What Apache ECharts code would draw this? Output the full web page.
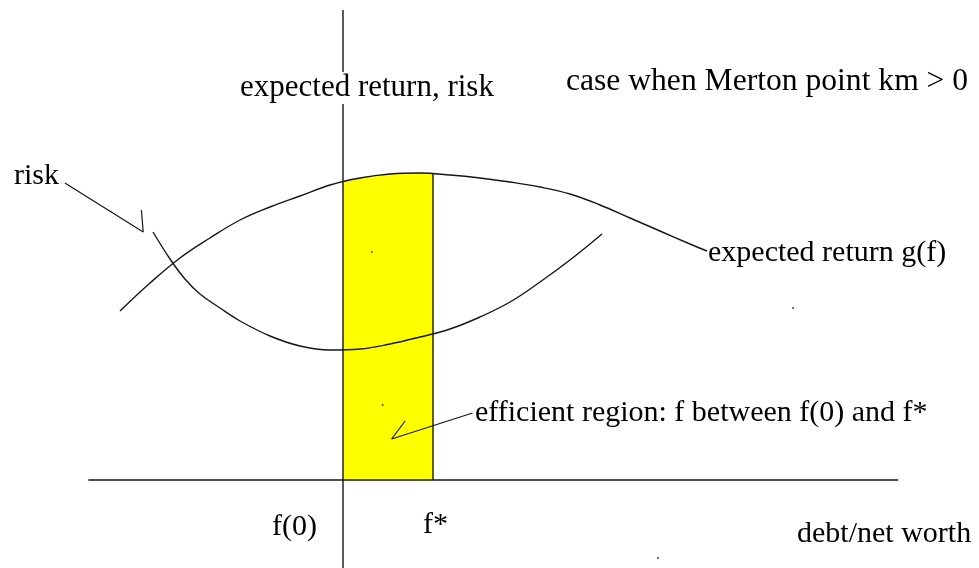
<!DOCTYPE html>
<html>
<head>
<meta charset="utf-8">
<script src="https://cdn.jsdelivr.net/npm/echarts@6/dist/echarts.min.js"></script>
<style>
  html, body { margin: 0; padding: 0; background: #ffffff; }
  #chart { width: 979px; height: 568px; }
</style>
</head>
<body>
<div id="chart"></div>
<script>
// Leverage f = debt/net worth on x, expected return and risk on y.

// expected return g(f)
const returnF = [-2.478, -2.144, -1.811, -1.478, -1.144, -0.811, -0.478, -0.144, 0.189, 0.522, 0.856, 1.189, 1.522, 1.856, 2.189, 2.522, 2.856, 3.189, 3.522, 3.856, 4.044];
const returnG = [1.69, 1.97, 2.22, 2.42, 2.60, 2.73, 2.84, 2.95, 3.02, 3.06, 3.07, 3.05, 3.02, 2.98, 2.93, 2.86, 2.75, 2.62, 2.49, 2.36, 2.29];

// risk
const riskF = [-2.111, -1.922, -1.756, -1.589, -1.367, -1.144, -0.811, -0.478, -0.144, 0.189, 0.522, 0.856, 1.189, 1.522, 1.856, 2.189, 2.522, 2.878];
const riskR = [2.48, 2.21, 2.01, 1.86, 1.72, 1.59, 1.44, 1.34, 1.30, 1.31, 1.36, 1.43, 1.51, 1.63, 1.78, 1.98, 2.20, 2.46];

// efficient region between f(0) and f*
const f0 = 0;
const fStar = 1;
const regionF = [0.0, 0.189, 0.522, 0.856, 1.0];
const regionTop = [2.98, 3.02, 3.06, 3.07, 3.06];

// extent of the drawn axes
const axisFRange = [-2.83, 6.17];
const axisYRange = [-0.88, 4.7];

// hand-drawn pointers from the labels
const riskPointer = [[-3.09, 2.97], [-2.22, 2.48], [-2.24, 2.70]];
const regionPointer = [[1.44, 0.67], [0.54, 0.41], [0.69, 0.59]];

// stray pen marks
const specks = [[0.32, 2.28], [0.44, 0.75], [5.0, 1.72], [3.5, -0.78]];

const INK = '#161616';
const FONT = '"Liberation Serif", "Times New Roman", serif';

const zip = (a, b) => a.map((v, i) => [v, b[i]]);

const chart = echarts.init(document.getElementById('chart'), null, { renderer: 'canvas' });

function plainLine(data, extra) {
  return Object.assign({
    type: 'line',
    data: data,
    showSymbol: false,
    symbol: 'none',
    clip: false,
    silent: true,
    animation: false,
    lineStyle: { color: INK, width: 1.4 }
  }, extra || {});
}

function label(text, x, y, size) {
  return {
    type: 'text',
    x: x,
    y: y,
    z: 100,
    style: {
      text: text,
      font: (size || 30) + 'px ' + FONT,
      fill: '#000000',
      align: 'left',
      verticalAlign: 'middle'
    }
  };
}

const option = {
  backgroundColor: '#ffffff',
  animation: false,
  grid: { left: 28, top: 30, width: 900, height: 500 },
  xAxis: {
    type: 'value', min: -3.5, max: 6.5,
    axisLine: { show: false }, axisTick: { show: false },
    axisLabel: { show: false }, splitLine: { show: false }
  },
  yAxis: {
    type: 'value', min: -0.5, max: 4.5,
    axisLine: { show: false }, axisTick: { show: false },
    axisLabel: { show: false }, splitLine: { show: false }
  },
  series: [
    // yellow efficient region
    plainLine(zip(regionF, regionTop), {
      smooth: 0.4,
      lineStyle: { width: 0, color: 'rgba(0,0,0,0)' },
      areaStyle: { color: '#ffff00', opacity: 1 },
      z: 1
    }),
    // horizontal axis
    plainLine([[axisFRange[0], 0], [axisFRange[1], 0]], { z: 3 }),
    // vertical axis at f(0)
    plainLine([[f0, axisYRange[0]], [f0, axisYRange[1]]], { z: 3 }),
    // right edge of the region at f*
    plainLine([[fStar, 0], [fStar, regionTop[regionTop.length - 1]]], { z: 3 }),
    // expected return curve
    plainLine(zip(returnF, returnG), { smooth: 0.4, z: 4 }),
    // risk curve
    plainLine(zip(riskF, riskR), { smooth: 0.4, z: 4 }),
    // pointers
    plainLine(riskPointer, { z: 4, lineStyle: { color: INK, width: 1.2 } }),
    plainLine(regionPointer, { z: 4, lineStyle: { color: INK, width: 1.2 } }),
    {
      type: 'scatter',
      data: specks,
      symbol: 'circle',
      symbolSize: 2,
      silent: true,
      clip: false,
      itemStyle: { color: INK },
      z: 4
    }
  ],
  graphic: [
    // white backing so the label sits over the vertical axis
    { type: 'rect', z: 99, shape: { x: 334, y: 72, width: 20, height: 32 }, style: { fill: '#ffffff' } },
    label('expected return, risk', 240, 88, 31),
    label('case when Merton point km > 0', 566, 82, 31.6),
    label('risk', 14, 176),
    label('expected return g(f)', 708, 253),
    label('efficient region: f between f(0) and f*', 475, 413),
    label('f(0)', 272, 527),
    label('f*', 423, 525),
    label('debt/net worth', 797, 534)
  ]
};

chart.setOption(option);
</script>
</body>
</html>
